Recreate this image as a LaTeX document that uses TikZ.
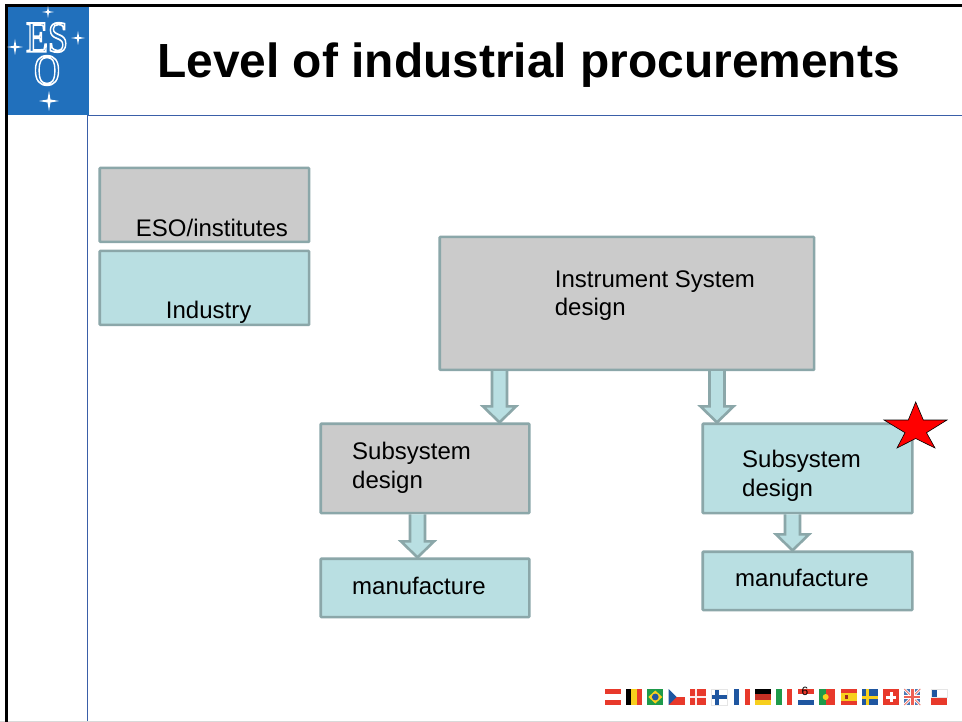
\documentclass[tikz,border=0pt]{standalone}
\usepackage{fontspec}
\setmainfont{Liberation Sans}
\newfontfamily\logofont{Liberation Serif}
\usetikzlibrary{calc}
\definecolor{boxteal}{HTML}{B9DFE2}
\definecolor{boxgrey}{HTML}{CBCBCB}
\definecolor{boxedge}{HTML}{8BA7A9}
\definecolor{esoblue}{HTML}{2170BC}
\definecolor{thinblue}{HTML}{3A5FA8}
\definecolor{fr}{HTML}{E8392B}
\definecolor{fb}{HTML}{1F56A0}
\definecolor{fg}{HTML}{1E9A4A}
\definecolor{fy}{HTML}{F7CF1D}
\tikzset{
  boxbase/.style={draw=boxedge,line width=2.6pt,rounded corners=0.8pt,inner sep=0pt,anchor=north west},
  tealbox/.style={boxbase,fill=boxteal},
  greybox/.style={boxbase,fill=boxgrey},
  boxlabel/.style={anchor=base west,inner sep=0pt,font=\fontsize{24}{24}\selectfont},
  blockarrow/.style={draw=boxedge,fill=boxteal,line width=2.6pt,line join=miter},
  logotext/.style={inner sep=0pt,white,xscale=.82,align=center,font=\logofont\fontsize{44}{33}\selectfont},
  sparkle/.style={fill=white,draw=none}
}
\newcommand{\boxat}[6]{\node[#1,minimum width=#4pt,minimum height=#5pt] (#2) at (#3) {};}
\newcommand{\outlined}[1]{\special{pdf:code q 1 Tr 1 1 1 RG 1.7 w}#1\special{pdf:code Q}}
\newcommand{\blockarrow}[3]{%
  \coordinate (X) at (#3,0);
  \coordinate (A) at (#1.south -| X);
  \coordinate (B) at (#2.north -| X);
  \draw[blockarrow] ($(A)+(-7.5,0)$) -- ($(B)+(-7.5,-16)$) -- ($(B)+(-16.5,-16)$) -- (B) -- ($(B)+(16.5,-16)$) -- ($(B)+(7.5,-16)$) -- ($(A)+(7.5,0)$);}
\newcommand{\sparkleat}[3]{\fill[sparkle] (#1,#2) ++(-#3,0) -- ++(#3*.85,-#3*.15) -- ++(#3*.15,-#3*.85) -- ++(#3*.15,#3*.85) -- ++(#3*.85,#3*.15) -- ++(-#3*.85,#3*.15) -- ++(-#3*.15,#3*.85) -- ++(-#3*.15,-#3*.85) -- cycle;}
\newcommand{\flagrow}[2]{\begin{scope}[shift={(#1,689)}]#2\end{scope}}
\begin{document}
\begin{tikzpicture}[x=1pt,y=-1pt]
\useasboundingbox (0,0) rectangle (962,722);
\fill[white] (0,0) rectangle (962,722);
% frame
\draw[thinblue,line width=.9pt] (87.5,115.5) -- (87.5,722);
\draw[thinblue,line width=.9pt] (87.5,115.5) -- (962,115.5);
\draw[black!15,line width=1pt] (0,721.5) -- (962,721.5);
\draw[black,line width=3pt] (6,722) -- (6,5.5) -- (962,5.5);
% logo
\fill[esoblue] (7.5,7) rectangle (89,115);
\node[logotext] (logo) at (47,54) {\outlined{ES}\\\outlined{O}};
\sparkleat{48}{12}{6}
\sparkleat{15}{47}{8}
\sparkleat{78}{38}{7}
\sparkleat{49}{101}{10}
% title
\node[anchor=base,inner sep=0pt,font=\bfseries\fontsize{47.9}{48}\selectfont] (title) at (528.5,77.5) {Level of industrial procurements};
% boxes
\boxat{greybox}{legA}{98.4,166.6}{209.4}{74}{}
\boxat{tealbox}{legB}{98.4,249.6}{209.4}{74}{}
\boxat{greybox}{main}{438.4,235.6}{374.4}{133}{}
\boxat{greybox}{subA}{319.4,422.4}{208.6}{89.4}{}
\boxat{tealbox}{manA}{319.4,557.4}{208.6}{58.4}{}
\boxat{tealbox}{subB}{701.4,422.4}{209.6}{89.4}{}
\boxat{tealbox}{manB}{701.4,550.4}{209.6}{58.4}{}
\blockarrow{main}{subA}{499.5}
\blockarrow{main}{subB}{717}
\blockarrow{subA}{manA}{417.5}
\blockarrow{subB}{manB}{792.5}
% labels
\node[boxlabel] (tA) at (135.7,237) {ESO/institutes};
\node[boxlabel] (tB) at (165.7,319) {Industry};
\node[boxlabel] (tC) at (554.7,288) {Instrument System};
\node[boxlabel] (tD) at (554.7,316) {design};
\node[boxlabel] (tE) at (352,459.3) {Subsystem};
\node[boxlabel] (tF) at (352,488.3) {design};
\node[boxlabel] (tG) at (352,594.3) {manufacture};
\node[boxlabel] (tH) at (742,467.3) {Subsystem};
\node[boxlabel] (tI) at (742,496.3) {design};
\node[boxlabel] (tJ) at (735,586.6) {manufacture};
% star
\draw[black,fill=red,line width=.6pt,line join=miter] (915.7,402) -- (923.3,420) -- (947,420) -- (926.5,432.7) -- (935,448) -- (915.7,438.5) -- (897,448) -- (905,432.7) -- (884,420) -- (908.3,420) -- cycle;
% flags
\flagrow{605}{\fill[fr] (0,0) rectangle (16,16);\fill[white] (0,5.3) rectangle (16,10.7);}
\flagrow{626}{\fill[black] (0,0) rectangle (5.3,16);\fill[fy] (5.3,0) rectangle (10.7,16);\fill[fr] (10.7,0) rectangle (16,16);}
\flagrow{647.3}{\fill[fg] (0,0) rectangle (16,16);\fill[fy] (8,1.5) -- (15,8) -- (8,14.5) -- (1,8) -- cycle;\fill[fb] (8,8) circle (3.4);}
\flagrow{668.7}{\fill[white] (0,0) rectangle (16,8);\fill[fr] (0,8) rectangle (16,16);\fill[fb] (0,0) -- (8,8) -- (0,16) -- cycle;}
\flagrow{690}{\fill[fr] (0,0) rectangle (16,16);\fill[white!90!fr] (5,0) rectangle (7.4,16);\fill[white!90!fr] (0,6.8) rectangle (16,9.2);}
\flagrow{711.3}{\fill[white] (0,0) rectangle (16,16);\fill[fb] (4,0) rectangle (7.5,16);\fill[fb] (0,6) rectangle (16,10);\draw[black!10,line width=.4pt] (0,0) rectangle (16,16);}
\flagrow{734}{\fill[white] (0,0) rectangle (16,16);\fill[fb] (0,0) rectangle (5.3,16);\fill[fr] (10.7,0) rectangle (16,16);}
\flagrow{755.3}{\fill[black] (0,0) rectangle (16,5.3);\fill[fr!85!black] (0,5.3) rectangle (16,10.7);\fill[fy] (0,10.7) rectangle (16,16);}
\flagrow{776.3}{\fill[white] (0,0) rectangle (16,16);\fill[fg] (0,0) rectangle (5.3,16);\fill[fr] (10.7,0) rectangle (16,16);}
\flagrow{798}{\fill[fr] (0,0) rectangle (16,5.3);\fill[white] (0,5.3) rectangle (16,10.7);\fill[fb] (0,10.7) rectangle (16,16);}
\flagrow{819.3}{\fill[fg] (0,0) rectangle (6.4,16);\fill[fr] (6.4,0) rectangle (16,16);\fill[fy] (6.4,8) circle (3);}
\flagrow{840.7}{\fill[fr] (0,0) rectangle (16,16);\fill[fy] (0,4) rectangle (16,12);\fill[fr!70!black] (4,6) rectangle (7,10);}
\flagrow{861.7}{\fill[fb] (0,0) rectangle (16,16);\fill[fy] (4.4,0) rectangle (7.4,16);\fill[fy] (0,6.5) rectangle (16,9.5);}
\flagrow{883}{\fill[fr] (0,0) rectangle (16,16);\fill[white] (6.5,3) rectangle (9.5,13);\fill[white] (3,6.5) rectangle (13,9.5);}
\flagrow{904.3}{\fill[fb!80!white] (0,0) rectangle (16,16);\draw[white,line width=2.6pt] (0,0) -- (16,16) (16,0) -- (0,16);\draw[fr!70!white,line width=.9pt] (0,0) -- (16,16) (16,0) -- (0,16);\draw[white,line width=4.4pt] (8,0) -- (8,16) (0,8) -- (16,8);\draw[fr!80!white,line width=2.4pt] (8,0) -- (8,16) (0,8) -- (16,8);}
\flagrow{931}{\fill[white] (0,0) rectangle (16,8);\fill[fr] (0,8) rectangle (16,16);\fill[fb] (0,0) rectangle (6,8);\draw[black!10,line width=.4pt] (0,0) rectangle (16,8);}
\node[anchor=base,inner sep=0pt,font=\fontsize{12}{12}\selectfont] (pageno) at (805,695) {6};
\end{tikzpicture}
\end{document}
